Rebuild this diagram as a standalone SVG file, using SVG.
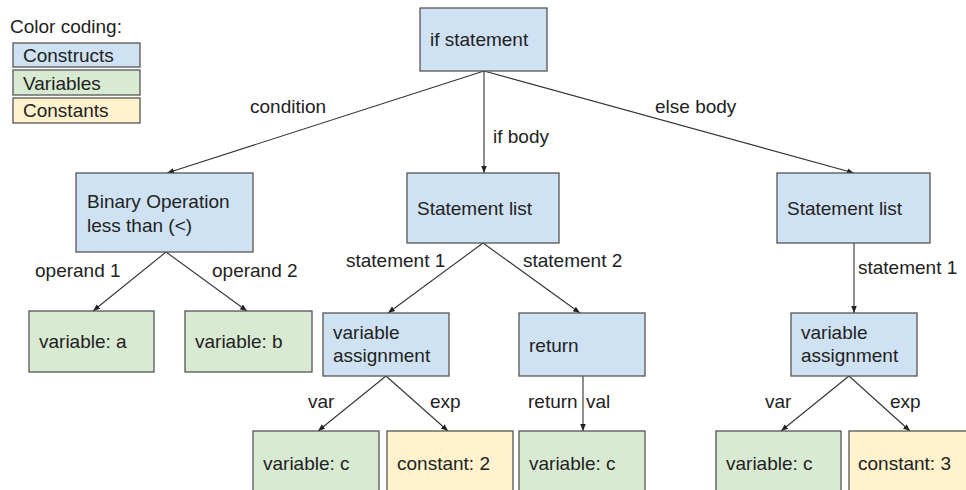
<svg xmlns="http://www.w3.org/2000/svg" width="966" height="490" viewBox="0 0 966 490">
  <style>
    text { font-family: "Liberation Sans", Arial, sans-serif; font-size: 19px; fill: #222; }
    .box { stroke: #555; stroke-width: 1.3; }
    .construct { fill: #cfe2f3; }
    .variable { fill: #d9ead3; }
    .constant { fill: #fff2cc; }
    .edge { stroke: #333; stroke-width: 1.1; fill: none; marker-end: url(#arrow); }
  </style>
  <defs>
    <marker id="arrow" viewBox="0 0 10 10" refX="10" refY="5" markerWidth="7" markerHeight="7" markerUnits="userSpaceOnUse" orient="auto">
      <path d="M0,1 L10,5 L0,9 z" fill="#222"/>
    </marker>
  </defs>
  <rect width="966" height="490" fill="#fff"/>

  <!-- legend -->
  <g id="legend">
    <text x="10" y="33">Color coding:</text>
    <rect class="box construct" x="13" y="43" width="127" height="24"/>
    <text x="23" y="62">Constructs</text>
    <rect class="box variable" x="13" y="70" width="127" height="25"/>
    <text x="23" y="90">Variables</text>
    <rect class="box constant" x="13" y="98" width="127" height="25"/>
    <text x="23" y="117">Constants</text>
  </g>

  <!-- connectors -->
  <g id="connectors">
    <line class="edge" x1="484" y1="71" x2="167" y2="173"/>
    <line class="edge" x1="484" y1="71" x2="484" y2="173"/>
    <line class="edge" x1="484" y1="71" x2="854" y2="173"/>
    <line class="edge" x1="166" y1="252" x2="93" y2="311"/>
    <line class="edge" x1="166" y1="252" x2="247" y2="311"/>
    <line class="edge" x1="483" y1="243" x2="388" y2="313"/>
    <line class="edge" x1="483" y1="243" x2="580" y2="313"/>
    <line class="edge" x1="386" y1="376" x2="318" y2="431"/>
    <line class="edge" x1="386" y1="376" x2="448" y2="431"/>
    <line class="edge" x1="583" y1="376" x2="583" y2="431"/>
    <line class="edge" x1="854" y1="243" x2="854" y2="313"/>
    <line class="edge" x1="849" y1="376" x2="781" y2="431"/>
    <line class="edge" x1="849" y1="376" x2="910" y2="431"/>

    <text x="250" y="113">condition</text>
    <text x="493" y="143">if body</text>
    <text x="655" y="113">else body</text>
    <text x="35" y="277">operand 1</text>
    <text x="212" y="277">operand 2</text>
    <text x="346" y="267">statement 1</text>
    <text x="523" y="267">statement 2</text>
    <text x="858" y="274">statement 1</text>
    <text x="308" y="408">var</text>
    <text x="430" y="408">exp</text>
    <text x="528" y="408">return</text>
    <text x="586" y="408">val</text>
    <text x="765" y="408">var</text>
    <text x="890" y="408">exp</text>
  </g>

  <!-- nodes -->
  <g id="if-statement">
    <rect class="box construct" x="420" y="8" width="127" height="63"/>
    <text x="430" y="46">if statement</text>
  </g>
  <g id="binary-op">
    <rect class="box construct" x="76" y="173" width="177" height="79"/>
    <text x="87" y="208">Binary Operation</text>
    <text x="87" y="232">less than (&lt;)</text>
  </g>
  <g id="stmt-list-if">
    <rect class="box construct" x="407" y="173" width="152" height="70"/>
    <text x="417" y="215">Statement list</text>
  </g>
  <g id="stmt-list-else">
    <rect class="box construct" x="777" y="173" width="153" height="70"/>
    <text x="787" y="215">Statement list</text>
  </g>
  <g id="var-a">
    <rect class="box variable" x="29" y="311" width="125" height="61"/>
    <text x="39" y="348">variable: a</text>
  </g>
  <g id="var-b">
    <rect class="box variable" x="185" y="311" width="127" height="61"/>
    <text x="195" y="348">variable: b</text>
  </g>
  <g id="assign-if">
    <rect class="box construct" x="323" y="313" width="126" height="63"/>
    <text x="333" y="339">variable</text>
    <text x="333" y="362">assignment</text>
  </g>
  <g id="return">
    <rect class="box construct" x="519" y="313" width="126" height="63"/>
    <text x="529" y="352">return</text>
  </g>
  <g id="assign-else">
    <rect class="box construct" x="791" y="313" width="126" height="63"/>
    <text x="801" y="339">variable</text>
    <text x="801" y="362">assignment</text>
  </g>
  <g id="var-c-1">
    <rect class="box variable" x="253" y="431" width="126" height="70"/>
    <text x="263" y="470">variable: c</text>
  </g>
  <g id="const-2">
    <rect class="box constant" x="387" y="431" width="126" height="70"/>
    <text x="397" y="470">constant: 2</text>
  </g>
  <g id="var-c-2">
    <rect class="box variable" x="519" y="431" width="126" height="70"/>
    <text x="529" y="470">variable: c</text>
  </g>
  <g id="var-c-3">
    <rect class="box variable" x="716" y="431" width="125" height="70"/>
    <text x="726" y="470">variable: c</text>
  </g>
  <g id="const-3">
    <rect class="box constant" x="849" y="431" width="130" height="70"/>
    <text x="858" y="470">constant: 3</text>
  </g>
</svg>
